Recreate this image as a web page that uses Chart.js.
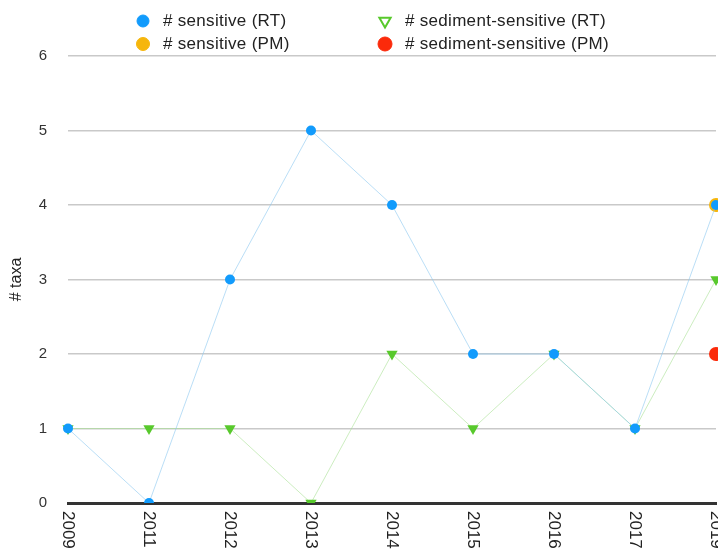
<!DOCTYPE html>
<html>
<head>
<meta charset="utf-8">
<script src="https://cdn.jsdelivr.net/npm/chart.js@4/dist/chart.umd.min.js"></script>
<style>
  body { margin: 0; background: #fff; }
  #wrap { width: 718px; height: 554px; position: relative; }
</style>
</head>
<body>
<div id="wrap"><canvas id="myChart"></canvas></div>
<script>
const years = ["2009", "2011", "2012", "2013", "2014", "2015", "2016", "2017", "2019"];
const sensitiveRT = [1, 0, 3, 5, 4, 2, 2, 1, 4];
const sedimentRT = [1, 1, 1, 0, 2, 1, 2, 1, 3];
const sensitivePM = [null, null, null, null, null, null, null, null, 4];
const sedimentPM = [null, null, null, null, null, null, null, null, 2];
const yTicks = [0, 1, 2, 3, 4, 5, 6];

const FONT = '"Liberation Sans", Arial, sans-serif';

// legend: 2 x 2 grid, drawn by hand
const legendItems = [
  { text: "# sensitive (RT)", style: "circle", r: 6, rot: 0, fill: "#129bfc", stroke: "#129bfc", col: 0, row: 0 },
  { text: "# sediment-sensitive (RT)", style: "triangle", r: 6.5, rot: 180, fill: "#fff", stroke: "#58c92c", col: 1, row: 0 },
  { text: "# sensitive (PM)", style: "circle", r: 6.5, rot: 0, fill: "#f6b60c", stroke: "#f6b60c", col: 0, row: 1 },
  { text: "# sediment-sensitive (PM)", style: "circle", r: 7, rot: 0, fill: "#fb2a0a", stroke: "#fb2a0a", col: 1, row: 1 },
];

const legendPlugin = {
  id: "gridLegend",
  afterDraw(chart) {
    const ctx = chart.ctx;
    ctx.save();
    ctx.font = "17px " + FONT;
    ctx.letterSpacing = "0.3px";
    ctx.textBaseline = "middle";
    ctx.textAlign = "left";
    legendItems.forEach((it) => {
      const x = 143 + it.col * 242;
      const y = 21 + it.row * 23;
      ctx.fillStyle = it.fill;
      ctx.strokeStyle = it.stroke;
      ctx.lineWidth = it.style === "triangle" ? 2 : 1;
      Chart.helpers.drawPoint(ctx, { pointStyle: it.style, radius: it.r, rotation: it.rot, borderWidth: ctx.lineWidth }, x, y);
      ctx.fillStyle = "#222";
      ctx.fillText(it.text, x + 20, y);
    });
    ctx.restore();
  },
};

// x labels rotated clockwise (reading top to bottom)
const xLabelPlugin = {
  id: "xLabels",
  afterDraw(chart) {
    const ctx = chart.ctx;
    const x = chart.scales.x;
    ctx.save();
    ctx.font = "17px " + FONT;
    ctx.fillStyle = "#222";
    ctx.textAlign = "left";
    ctx.textBaseline = "middle";
    years.forEach((yr, i) => {
      ctx.save();
      ctx.translate(x.getPixelForTick(i), x.top + 8);
      ctx.rotate(Math.PI / 2);
      ctx.fillText(yr, 0, 0);
      ctx.restore();
    });
    ctx.restore();
  },
};

const ctx = document.getElementById("myChart");

new Chart(ctx, {
  type: "line",
  data: {
    labels: years,
    datasets: [
      {
        label: "# sensitive (RT)",
        data: sensitiveRT,
        borderColor: "rgba(140,200,240,0.6)",
        borderWidth: 1,
        pointStyle: "circle",
        pointRadius: 5,
        pointBackgroundColor: "#129bfc",
        pointBorderColor: "#129bfc",
        pointBorderWidth: 0,
      },
      {
        label: "# sediment-sensitive (RT)",
        data: sedimentRT,
        borderColor: "rgba(170,225,150,0.6)",
        borderWidth: 1,
        pointStyle: "triangle",
        pointRotation: 180,
        pointRadius: 6.5,
        pointBackgroundColor: "#58c92c",
        pointBorderColor: "#58c92c",
        pointBorderWidth: 0,
      },
      {
        label: "# sensitive (PM)",
        data: sensitivePM,
        showLine: false,
        pointRadius: 7,
        pointBackgroundColor: "#f6b60c",
        pointBorderColor: "#f6b60c",
        pointBorderWidth: 0,
      },
      {
        label: "# sediment-sensitive (PM)",
        data: sedimentPM,
        showLine: false,
        pointRadius: 7,
        pointBackgroundColor: "#fb2a0a",
        pointBorderColor: "#fb2a0a",
        pointBorderWidth: 0,
      },
    ],
  },
  options: {
    responsive: true,
    maintainAspectRatio: false,
    animation: false,
    layout: { autoPadding: false, padding: { top: 56, right: 2, left: 0, bottom: 0 } },
    plugins: {
      legend: { display: false },
      tooltip: { enabled: false },
    },
    scales: {
      x: {
        offset: false,
        grid: { display: false },
        border: { display: true, color: "#333", width: 3 },
        ticks: { display: false },
        afterFit(scale) {
          scale.height = 51;
        },
      },
      y: {
        min: 0,
        max: 6,
        afterBuildTicks(scale) {
          scale.ticks = yTicks.map((v) => ({ value: v }));
        },
        grid: { color: "#c9c9c9", lineWidth: 1.5, drawTicks: false },
        border: { display: false },
        ticks: {
          padding: 21,
          color: "#333",
          font: { family: FONT, size: 15 },
        },
        title: {
          display: true,
          text: "# taxa",
          color: "#222",
          font: { family: FONT, size: 16 },
          padding: { top: 7, bottom: 0 },
        },
        afterFit(scale) {
          scale.width = 68;
        },
      },
    },
  },
  plugins: [legendPlugin, xLabelPlugin],
});
</script>
</body>
</html>
